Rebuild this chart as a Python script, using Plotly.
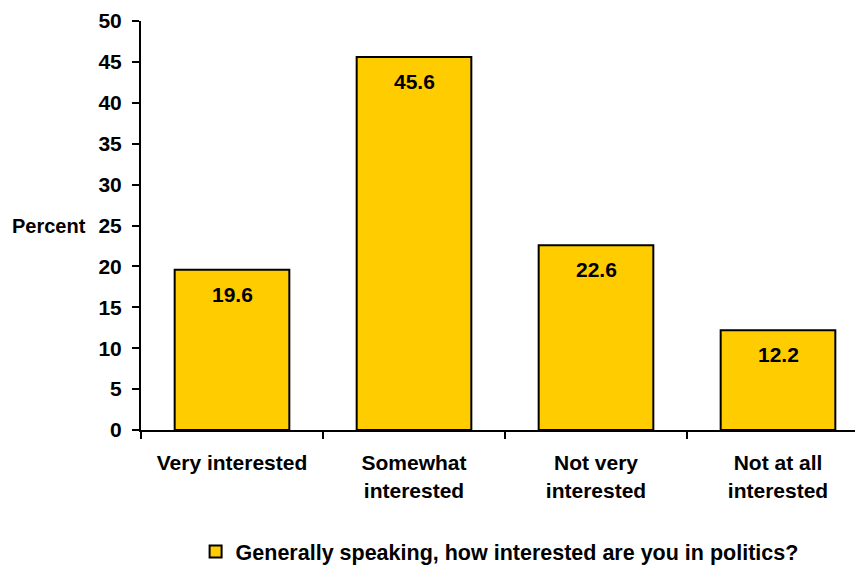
import plotly.graph_objects as go

categories = ["Very interested", "Somewhat<br>interested", "Not very<br>interested", "Not at all<br>interested"]
values = [19.6, 45.6, 22.6, 12.2]
series_name = "Generally speaking, how interested are you in politics?"
y_ticks = [0, 5, 10, 15, 20, 25, 30, 35, 40, 45, 50]

FONT = "Arial, Liberation Sans, sans-serif"
FS = 21

fig = go.Figure()
fig.add_trace(go.Bar(
    x=categories, y=values, name=series_name,
    marker=dict(color="#FFCC00", line=dict(color="black", width=2)),
    showlegend=True,
))

for c, v in zip(categories, values):
    fig.add_annotation(
        x=c, y=v, xref="x", yref="y", text=f"{v:.1f}", showarrow=False,
        yanchor="top", yshift=-11,
        font=dict(family=FONT, size=FS, color="black", weight="bold"),
    )

fig.add_annotation(
    text="Percent", xref="paper", yref="y", x=0, y=25, xanchor="right", yanchor="middle",
    xshift=-53, showarrow=False,
    font=dict(family=FONT, size=20, color="black", weight="bold"),
)

fig.update_layout(
    width=863, height=565,
    margin=dict(l=133, r=2, t=13, b=143, autoexpand=False),
    paper_bgcolor="white", plot_bgcolor="white",
    bargap=0.37,
    font=dict(family=FONT, size=FS, color="black", weight="bold"),
    showlegend=True,
    legend=dict(orientation="h", x=0.075, xanchor="left", y=-0.297, yanchor="middle",
                font=dict(family=FONT, size=21.5, color="black", weight="bold"),
                itemwidth=30),
    xaxis=dict(
        type="category", range=[-0.5, 3.5], tickson="boundaries", automargin=False,
        ticks="outside", ticklen=7, tickwidth=2, tickcolor="black",
        showline=True, linecolor="black", linewidth=2, showgrid=False,
        tickfont=dict(family=FONT, size=FS, color="black", weight="bold"),
        ticklabelstandoff=13,
    ),
    yaxis=dict(
        range=[0, 50], tickvals=y_ticks, ticks="outside", ticklen=7, tickwidth=2, tickcolor="black",
        showline=True, linecolor="black", linewidth=2, showgrid=False, zeroline=False,
        automargin=False,
        tickfont=dict(family=FONT, size=FS, color="black", weight="bold"),
        ticklabelstandoff=6, ticklabeloverflow="allow",
    ),
)

fig.write_html("out.html")
